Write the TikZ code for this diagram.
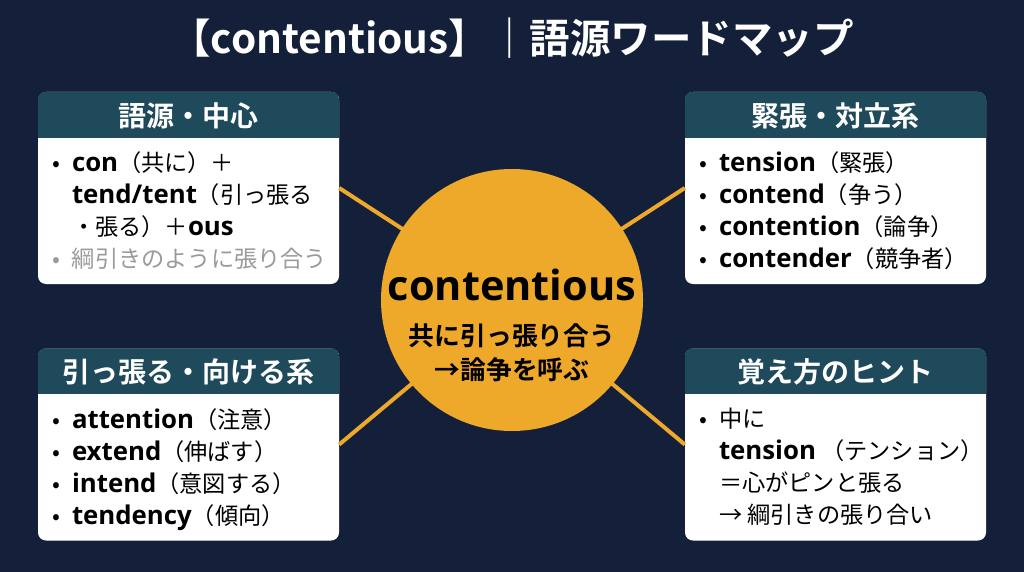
\documentclass[tikz,border=0pt]{standalone}
\usepackage{fontspec}
\setmainfont{Noto Sans CJK JP}[BoldFont={Noto Sans CJK JP Bold}]
\IfFontExistsTF{Open Sans Bold}
  {\newfontfamily\latinfont{Open Sans Bold}}
  {\newfontfamily\latinfont{Noto Sans}[FakeBold=2.5]}
\usetikzlibrary{calc}
\definecolor{bgnavy}{HTML}{14203A}
\definecolor{headteal}{HTML}{1F4A5C}
\definecolor{corebg}{HTML}{EEA82A}
\definecolor{softgray}{HTML}{9A9A9A}
\newcommand{\bul}{\makebox[20pt][l]{•}}
\newcommand{\ind}{\hspace*{20pt}}
\newcommand{\kw}[1]{{\latinfont\fontsize{25.8}{32}\selectfont #1}}

\begin{document}
\begin{tikzpicture}[x=1pt, y=-1pt,
  card/.style={fill=white, rounded corners=8pt, minimum width=301pt, minimum height=192pt, inner sep=0pt},
  cardhead/.style={text=white, font=\bfseries\fontsize{28}{30}\selectfont},
  cardtext/.style={anchor=north west, align=left, inner sep=0pt, font=\fontsize{23.2}{32}\selectfont},
  link/.style={draw=corebg, line width=4pt}]
\fill[bgnavy] (0,0) rectangle (1024,572);
\node[text=white, font=\bfseries\fontsize{40.5}{42}\selectfont, anchor=base] (title) at (512,54) {【contentious】｜語源ワードマップ};
% four cards
\node[card] (tl) at (188.5,188) {};
\node[card] (tr) at (835.5,188) {};
\node[card] (bl) at (188.5,444.5) {};
\node[card] (br) at (835.5,444.5) {};
\coordinate (hub) at (512,300);
% links, then the circle on top
\draw[link] (tl.east) -- (hub);
\draw[link] (bl.east) -- (hub);
\draw[link] (tr.west) -- (hub);
\draw[link] (br.west) -- (hub);
\node[circle, fill=corebg, minimum size=262pt] (ctr) at (hub) {};
\foreach \c in {tl,tr,bl,br} {
  \begin{scope}
  \clip[rounded corners=8pt] (\c.north west) rectangle (\c.south east);
  \fill[headteal] (\c.north west) rectangle ([yshift=-46pt]\c.north east);
  \end{scope}
}
\node[cardhead] (tlt) at ([yshift=-24pt]tl.north) {語源・中心};
\node[cardhead] (trt) at ([yshift=-24pt]tr.north) {緊張・対立系};
\node[cardhead] (blt) at ([yshift=-24pt]bl.north) {引っ張る・向ける系};
\node[cardhead] (brt) at ([yshift=-24pt]br.north) {覚え方のヒント};
\node[cardtext] (tlb) at ([xshift=14pt,yshift=-60pt]tl.north west)
  {\bul\kw{con}（共に）＋\\ \ind\kw{tend/tent}（引っ張る\\ \ind・張る）＋\kw{ous}\\ \textcolor{softgray}{\bul 綱引きのように張り合う}};
\node[cardtext] (trb) at ([xshift=14pt,yshift=-60pt]tr.north west)
  {\bul\kw{tension}（緊張）\\ \bul\kw{contend}（争う）\\ \bul\kw{contention}（論争）\\ \bul\kw{contender}（競争者）};
\node[cardtext] (blb) at ([xshift=14pt,yshift=-60pt]bl.north west)
  {\bul\kw{attention}（注意）\\ \bul\kw{extend}（伸ばす）\\ \bul\kw{intend}（意図する）\\ \bul\kw{tendency}（傾向）};
\node[cardtext] (brb) at ([xshift=14pt,yshift=-60pt]br.north west)
  {\bul 中に\\ \ind\kw{tension} （テンション）\\ \ind＝心がピンと張る\\ \ind→ 綱引きの張り合い};
\node[font=\latinfont\fontsize{41.5}{44}\selectfont, anchor=base] (word) at (hub) {contentious};
\node[font=\bfseries\fontsize{25.8}{34}\selectfont, align=center, anchor=north] (gloss) at (512,320) {共に引っ張り合う\\→論争を呼ぶ};
\end{tikzpicture}
\end{document}
